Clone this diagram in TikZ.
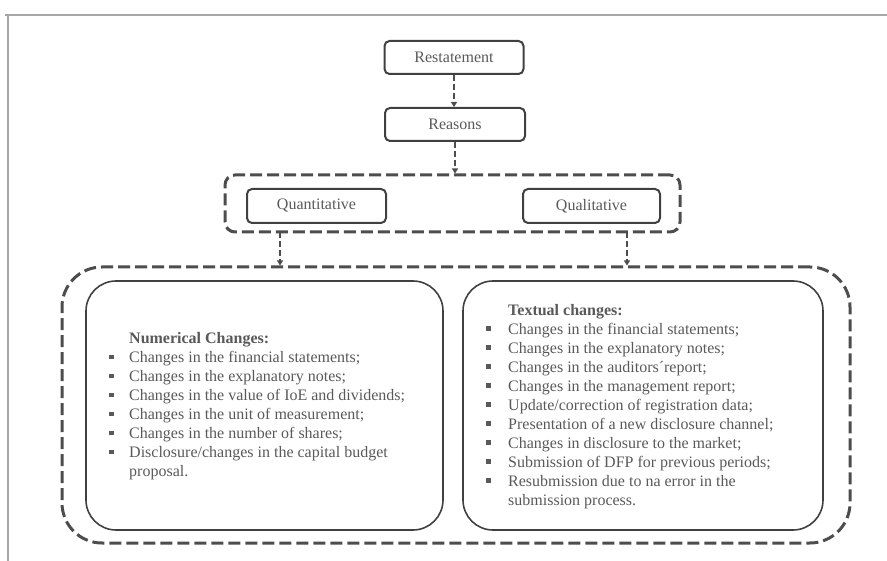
\documentclass[tikz,border=0pt]{standalone}
\usepackage{fontspec}
\setmainfont{Liberation Serif}
\usetikzlibrary{arrows.meta,calc}
\definecolor{txt}{HTML}{595959}
\definecolor{ln}{HTML}{404040}
\definecolor{dsh}{HTML}{4D4D4D}
\definecolor{frm}{HTML}{A6A6A6}
\newcommand{\bul}{\makebox[20pt][l]{\rule[3.5pt]{4.5pt}{4.5pt}}}
\begin{document}
\begin{tikzpicture}[x=1pt,y=-1pt,
  smallbox/.style={draw=ln, line width=2pt, rounded corners=5pt, text=txt,
    font=\fontsize{16}{19}\selectfont, minimum height=33pt, inner sep=0pt},
  groupbox/.style={draw=dsh, line width=3pt, dash pattern=on 12pt off 5pt, rounded corners=10pt, inner sep=0pt},
  bigdash/.style={draw=dsh, line width=3pt, dash pattern=on 12pt off 5pt, rounded corners=40pt, inner sep=0pt},
  listbox/.style={draw=ln, line width=1.6pt, rounded corners=30pt, inner sep=0pt},
  listtext/.style={align=left, text=txt, font=\fontsize{16}{19}\selectfont, inner sep=0pt},
  conn/.style={draw=dsh, line width=2pt, dash pattern=on 6pt off 3pt, -{Triangle[width=6pt,length=5pt]}},
  frame/.style={draw=frm, line width=1.5pt}
]
\useasboundingbox (0,0) rectangle (887,561);
% frame
\coordinate (f1) at (5,15);
\coordinate (f2) at (887,15);
\coordinate (f3) at (8,15);
\coordinate (f4) at (8,561);
\draw[frame] (f1) -- (f2);
\draw[frame] (f3) -- (f4);

\node[smallbox, minimum width=139pt] (rest) at (454,57.5) {Restatement};
\node[smallbox, minimum width=140pt] (reasons) at (455,124.5) {Reasons};
\node[groupbox, minimum width=455pt, minimum height=57pt] (group) at (452.5,203.5) {};
\node[smallbox, minimum width=139pt, minimum height=34pt] (quant) at (316.5,206) {Quantitative};
\node[smallbox, minimum width=137pt, minimum height=34pt] (qual) at (591.5,206) {Qualitative};
\node[bigdash, minimum width=788pt, minimum height=276pt] (big) at (456,405) {};
\node[listbox, minimum width=357pt, minimum height=249pt] (lbox) at (264.5,405.5) {};
\node[listbox, minimum width=360pt, minimum height=249pt] (rbox) at (643,405.5) {};

\node[listtext, anchor=west] (ltxt) at (109,406.5) {%
\hspace*{20pt}\textbf{Numerical Changes:}\\
\bul Changes in the financial statements;\\
\bul Changes in the explanatory notes;\\
\bul Changes in the value of IoE and dividends;\\
\bul Changes in the unit of measurement;\\
\bul Changes in the number of shares;\\
\bul Disclosure/changes in the capital budget\\
\hspace*{20pt}proposal.};

\node[listtext, anchor=west] (rtxt) at (486,406.5) {%
\hspace*{22pt}\textbf{Textual changes:}\\
\bul\hspace{2pt}Changes in the financial statements;\\
\bul\hspace{2pt}Changes in the explanatory notes;\\
\bul\hspace{2pt}Changes in the auditors´report;\\
\bul\hspace{2pt}Changes in the management report;\\
\bul\hspace{2pt}Update/correction of registration data;\\
\bul\hspace{2pt}Presentation of a new disclosure channel;\\
\bul\hspace{2pt}Changes in disclosure to the market;\\
\bul\hspace{2pt}Submission of DFP for previous periods;\\
\bul\hspace{2pt}Resubmission due to na error in the\\
\hspace*{22pt}submission process.};

\draw[conn] (rest.south) -- (rest.south |- reasons.north);
\draw[conn] (reasons.south) -- (reasons.south |- group.north);
\coordinate (qa) at (280,232);
\coordinate (qb) at (627,232);
\draw[conn] (qa) -- (qa |- big.north);
\draw[conn] (qb) -- (qb |- big.north);
\end{tikzpicture}
\end{document}
